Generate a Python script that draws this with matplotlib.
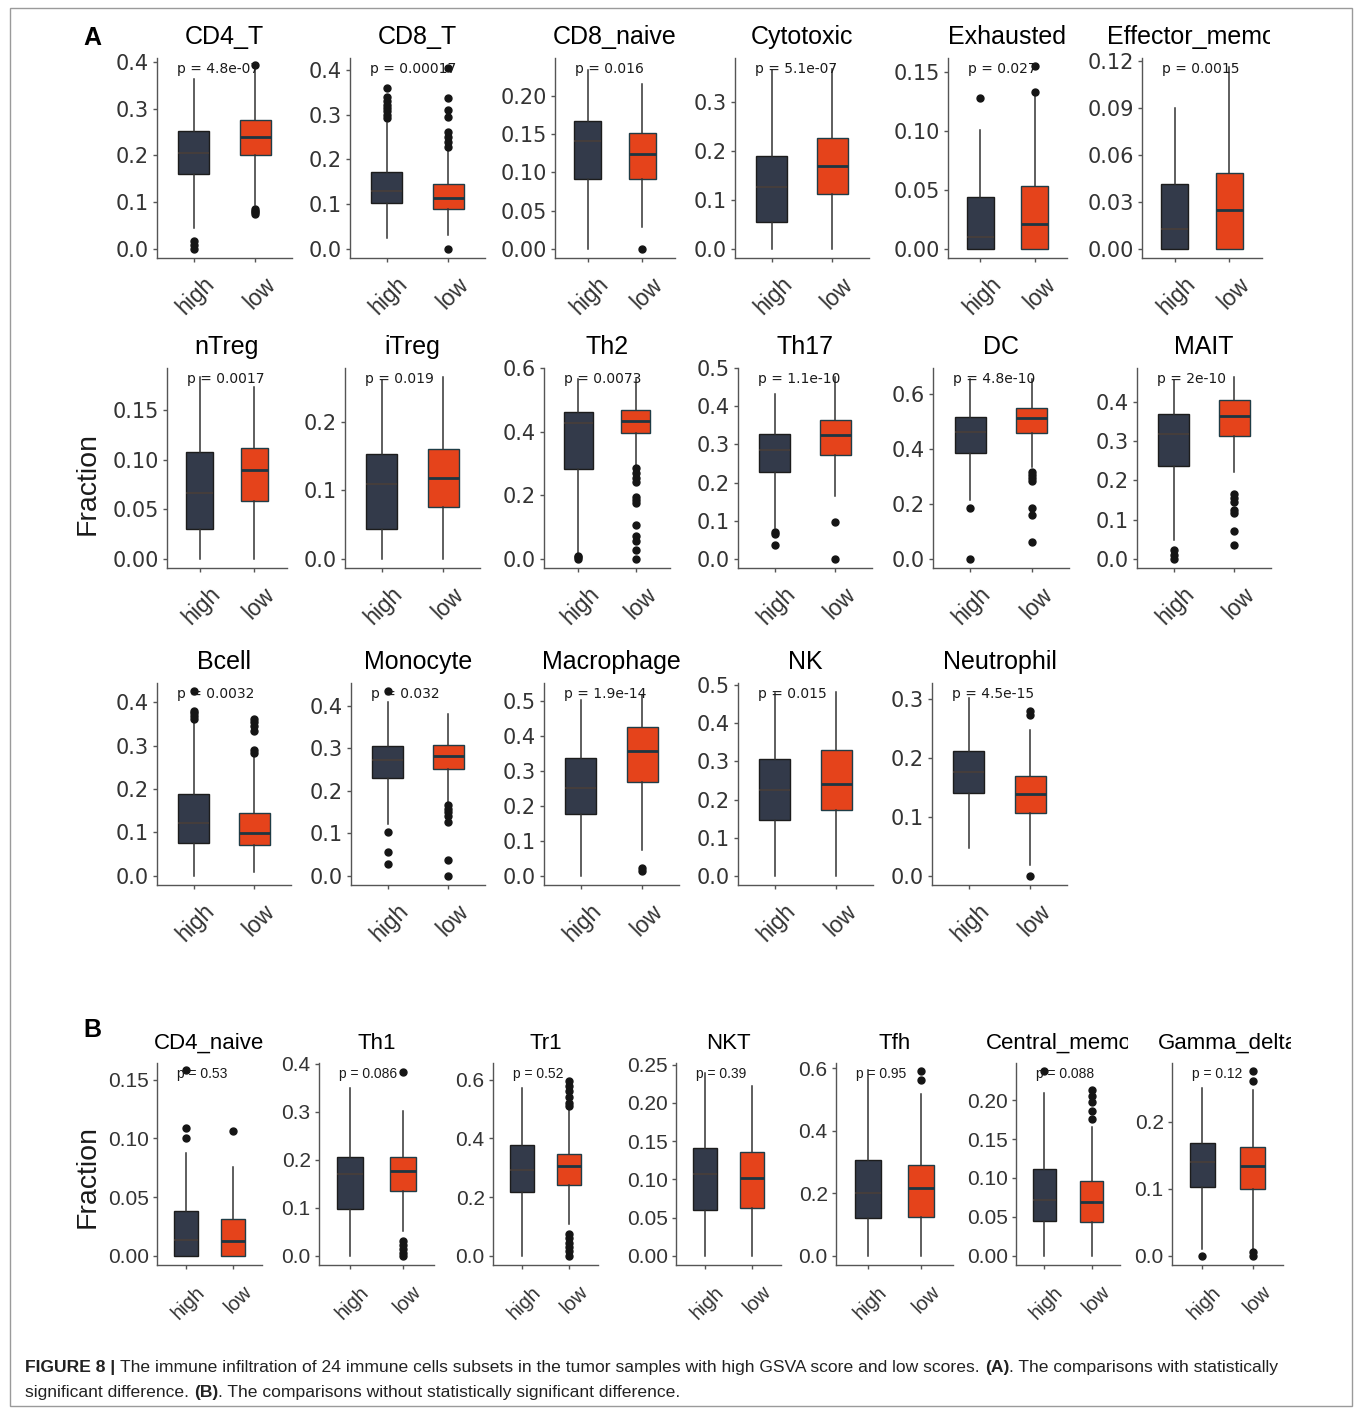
import matplotlib
matplotlib.use('Agg')
import matplotlib.pyplot as plt
from matplotlib.transforms import Bbox, TransformedBbox, ScaledTranslation
from matplotlib.patches import Rectangle

# ---- A: subsets with a significant high/low difference ----
cells_a = ['CD4_T', 'CD8_T', 'CD8_naive', 'Cytotoxic', 'Exhausted', 'Effector_memory',
           'nTreg', 'iTreg', 'Th2', 'Th17', 'DC', 'MAIT',
           'Bcell', 'Monocyte', 'Macrophage', 'NK', 'Neutrophil']
pvals_a = ['4.8e-07', '0.00017', '0.016', '5.1e-07', '0.027', '0.0015',
           '0.0017', '0.019', '0.0073', '1.1e-10', '4.8e-10', '2e-10',
           '0.0032', '0.032', '1.9e-14', '0.015', '4.5e-15']
# whisker low, q1, median, q3, whisker high
high_a = [[0.045, 0.1605, 0.205, 0.253, 0.363],
          [0.025, 0.103, 0.129, 0.172, 0.281],
          [0.0, 0.0917, 0.141, 0.167, 0.234],
          [0.0, 0.055, 0.127, 0.190, 0.364],
          [0.0, 0.0, 0.0098, 0.0437, 0.1005],
          [0.0, 0.0, 0.0127, 0.0413, 0.090],
          [0.0, 0.030, 0.0669, 0.108, 0.1834],
          [0.0, 0.044, 0.109, 0.153, 0.2606],
          [0.019, 0.283, 0.428, 0.464, 0.567],
          [0.081, 0.227, 0.285, 0.327, 0.431],
          [0.215, 0.387, 0.463, 0.5154, 0.657],
          [0.048, 0.2356, 0.3186, 0.370, 0.455],
          [0.0, 0.0749, 0.122, 0.1876, 0.355],
          [0.122, 0.2303, 0.272, 0.306, 0.4086],
          [0.0, 0.177, 0.251, 0.338, 0.503],
          [0.0, 0.1452, 0.2245, 0.3055, 0.480],
          [0.0473, 0.141, 0.1764, 0.2123, 0.3017]]
low_a = [[0.094, 0.201, 0.239, 0.276, 0.383],
         [0.032, 0.089, 0.114, 0.146, 0.222],
         [0.0287, 0.0917, 0.124, 0.152, 0.216],
         [0.0, 0.112, 0.168, 0.2256, 0.366],
         [0.0, 0.0, 0.0212, 0.053, 0.131],
         [0.0, 0.0, 0.0246, 0.0487, 0.116],
         [0.0, 0.0586, 0.0897, 0.1115, 0.1734],
         [0.0, 0.075, 0.1177, 0.161, 0.2654],
         [0.290, 0.396, 0.434, 0.470, 0.567],
         [0.165, 0.272, 0.324, 0.3635, 0.476],
         [0.336, 0.457, 0.512, 0.548, 0.657],
         [0.2204, 0.3137, 0.3644, 0.4043, 0.4636],
         [0.0077, 0.0718, 0.098, 0.145, 0.278],
         [0.1735, 0.2525, 0.2817, 0.3077, 0.381],
         [0.0739, 0.268, 0.3563, 0.4243, 0.517],
         [0.0, 0.1735, 0.2403, 0.3293, 0.4825],
         [0.0188, 0.107, 0.1383, 0.1696, 0.2476]]
high_out_a = [[0.017, 0.008, 0.0],
              [0.359, 0.339, 0.330, 0.322, 0.315, 0.308, 0.300, 0.293],
              [], [], [0.128], [], [], [],
              [0.010, 0.005, 0.0],
              [0.070, 0.065, 0.037],
              [0.185, 0.0],
              [0.022, 0.0095, 0.0],
              [0.380, 0.375, 0.368, 0.360, 0.4246],
              [0.104, 0.0568, 0.0276, 0.434],
              [], [], []]
low_out_a = [[0.086, 0.082, 0.078, 0.074, 0.393],
             [0.404, 0.337, 0.311, 0.296, 0.262, 0.251, 0.240, 0.229, 0.0],
             [0.0], [], [0.133, 0.155], [], [], [],
             [0.285, 0.269, 0.254, 0.243, 0.196, 0.186, 0.175, 0.107, 0.071, 0.055, 0.029, 0.0],
             [0.0965, 0.0],
             [0.318, 0.305, 0.295, 0.285, 0.185, 0.161, 0.060],
             [0.166, 0.154, 0.146, 0.1246, 0.116, 0.071, 0.0356],
             [0.362, 0.355, 0.345, 0.333, 0.290, 0.283],
             [0.166, 0.158, 0.150, 0.140, 0.127, 0.037, 0.0],
             [0.022, 0.015],
             [],
             [0.280, 0.273, 0.0]]
yticks_a = [[0, 0.1, 0.2, 0.3, 0.4], [0, 0.1, 0.2, 0.3, 0.4], [0, 0.05, 0.10, 0.15, 0.20],
            [0, 0.1, 0.2, 0.3], [0, 0.05, 0.10, 0.15], [0, 0.03, 0.06, 0.09, 0.12],
            [0, 0.05, 0.10, 0.15], [0, 0.1, 0.2], [0, 0.2, 0.4, 0.6],
            [0, 0.1, 0.2, 0.3, 0.4, 0.5], [0, 0.2, 0.4, 0.6], [0, 0.1, 0.2, 0.3, 0.4],
            [0, 0.1, 0.2, 0.3, 0.4], [0, 0.1, 0.2, 0.3, 0.4], [0, 0.1, 0.2, 0.3, 0.4, 0.5],
            [0, 0.1, 0.2, 0.3, 0.4, 0.5], [0, 0.1, 0.2, 0.3]]
ymax_a = [0.408, 0.427, 0.2496, 0.389, 0.162, 0.1217,
          0.1925, 0.2785, 0.601, 0.500, 0.6955, 0.4865,
          0.444, 0.4537, 0.551, 0.506, 0.327]

# ---- B: subsets without a significant difference ----
cells_b = ['CD4_naive', 'Th1', 'Tr1', 'NKT', 'Tfh', 'Central_memory', 'Gamma_delta']
pvals_b = ['0.53', '0.086', '0.52', '0.39', '0.95', '0.088', '0.12']
high_b = [[0.0, 0.0, 0.0134, 0.038, 0.0877],
          [0.0, 0.0974, 0.1705, 0.205, 0.350],
          [0.0, 0.217, 0.2914, 0.377, 0.5714],
          [0.0, 0.0596, 0.1074, 0.1413, 0.239],
          [0.0, 0.120, 0.200, 0.305, 0.595],
          [0.0, 0.045, 0.0718, 0.1118, 0.2086],
          [0.010, 0.1025, 0.140, 0.169, 0.250]]
low_b = [[0.0, 0.0, 0.0129, 0.0314, 0.0757],
         [0.052, 0.1357, 0.176, 0.2066, 0.301],
         [0.1086, 0.240, 0.306, 0.3486, 0.503],
         [0.0, 0.063, 0.1021, 0.1356, 0.2217],
         [0.0, 0.125, 0.216, 0.289, 0.5175],
         [0.0, 0.0439, 0.0688, 0.0955, 0.1655],
         [0.010, 0.100, 0.1335, 0.1625, 0.2475]]
high_out_b = [[0.109, 0.1005, 0.1586], [], [], [], [], [0.2374], [0.0]]
low_out_b = [[0.1066],
             [0.031, 0.022, 0.014, 0.006, 0.0, 0.3826],
             [0.594, 0.580, 0.560, 0.540, 0.520, 0.510, 0.074, 0.060, 0.045, 0.030, 0.015, 0.0],
             [],
             [0.589, 0.5625],
             [0.213, 0.205, 0.197, 0.186, 0.176],
             [0.276, 0.261, 0.005, 0.0]]
yticks_b = [[0, 0.05, 0.10, 0.15], [0, 0.1, 0.2, 0.3, 0.4], [0, 0.2, 0.4, 0.6],
            [0, 0.05, 0.10, 0.15, 0.20, 0.25], [0, 0.2, 0.4, 0.6],
            [0, 0.05, 0.10, 0.15, 0.20], [0, 0.1, 0.2]]
ymax_b = [0.1643, 0.402, 0.657, 0.252, 0.616, 0.2477, 0.2876]

groups = ['high', 'low']

# ---- layout (figure pixels) ----
W, H = 1355, 1409
left_a = [157, 350, 555, 735, 948, 1142, 167, 345, 544, 738, 933, 1137, 157, 351, 544, 738, 932]
right_a = [292, 485, 675, 869, 1067, 1262, 287, 480, 670, 872, 1069, 1271, 291, 485, 679, 873, 1067]
rows_a = [(58, 258)] * 6 + [(368, 568)] * 6 + [(683, 885)] * 5
left_b = [157, 319, 493, 676, 836, 1016, 1172]
right_b = [262, 434, 598, 781, 953, 1120, 1283]
rows_b = [(1063, 1265)] * 7

HIGH_FILL, HIGH_EDGE, HIGH_MED = '#333a4a', '#1c1c1c', '#4a3e38'
LOW_FILL, LOW_EDGE, LOW_MED = '#e5431b', '#1f3d47', '#1d3642'
AXIS_COL = '#555555'
TICK_TXT = '#333333'
SANS = 'Liberation Sans'


def fx(x):
    return x / W


def fy(y):
    return 1 - y / H


def tick_labels(ticks):
    two = any(abs(t * 10 - round(t * 10)) > 1e-9 for t in ticks)
    return [f'{t:.2f}' if two else f'{t:.1f}' for t in ticks]


def box_panel(fig, x0, x1, top, bottom, title, p, high, low, high_out, low_out,
              ticks, ymax, ytick_font, ptick_font, title_size, xlab_size, xlab_pad, xlab_dx):
    ax = fig.add_axes([fx(x0), fy(bottom), (x1 - x0) / W, (bottom - top) / H])
    stats = []
    for five, out in ((high, high_out), (low, low_out)):
        lo, q1, med, q3, hi = five
        stats.append(dict(whislo=lo, q1=q1, med=med, q3=q3, whishi=hi, fliers=out))
    parts = ax.bxp(stats, positions=[1, 2], widths=0.5, patch_artist=True, showcaps=False,
                   whiskerprops=dict(color='#333333', lw=1.1),
                   flierprops=dict(marker='o', markerfacecolor='#151515',
                                   markeredgecolor='#151515', markersize=5))
    for box, fc, ec in zip(parts['boxes'], [HIGH_FILL, LOW_FILL], [HIGH_EDGE, LOW_EDGE]):
        box.set_facecolor(fc)
        box.set_edgecolor(ec)
        box.set_linewidth(1.0)
    for line, c, lw in zip(parts['medians'], [HIGH_MED, LOW_MED], [1.1, 2.0]):
        line.set_color(c)
        line.set_linewidth(lw)

    ax.set_xlim(0.4, 2.6)
    ax.set_ylim(-ymax / 21, ymax)
    for s in ('top', 'right'):
        ax.spines[s].set_visible(False)
    for s in ('left', 'bottom'):
        ax.spines[s].set_color(AXIS_COL)
        ax.spines[s].set_linewidth(1.0)
    ax.set_yticks(ticks)
    ax.set_yticklabels(tick_labels(ticks), family=ytick_font, fontsize=15, color=TICK_TXT)
    ax.set_xticks([1, 2])
    ax.set_xticklabels(groups, rotation=45, rotation_mode='anchor', ha='right', va='top',
                       family=SANS, fontsize=xlab_size, color=TICK_TXT)
    ax.tick_params(axis='y', length=3, width=1, color=AXIS_COL, pad=3)
    ax.tick_params(axis='x', length=3, width=1, color=AXIS_COL, pad=xlab_pad)
    shift = ScaledTranslation(xlab_dx / 72, 0, fig.dpi_scale_trans)
    for lab in ax.get_xticklabels():
        lab.set_transform(lab.get_transform() + shift)

    # panel title, clipped at the right edge of its cell
    t = fig.text(fx((x0 + x1) / 2), fy(top - 14.3), title, ha='center', va='baseline',
                 family=SANS, fontsize=title_size, color='black', clip_on=True)
    t.set_clip_box(TransformedBbox(Bbox.from_extents(0, 0, fx(x1 + 8), 1), fig.transFigure))

    fig.text(fx(x0 + 20), fy(top + 15), 'p = ' + p, ha='left', va='baseline',
             family=ptick_font, fontsize=10, color='#1a1a1a')
    return ax


def caption_line(fig, x, y, runs, size):
    r = fig.canvas.get_renderer()

    def width(s, weight):
        t = fig.text(0, 0, s, family=SANS, fontsize=size, fontweight=weight)
        w = t.get_window_extent(r).width
        t.remove()
        return w

    space = width('n n', 'normal') - width('nn', 'normal')
    for s, bold, gap in runs:
        weight = 'bold' if bold else 'normal'
        fig.text(fx(x), fy(y), s, ha='left', va='baseline', family=SANS,
                 fontsize=size, fontweight=weight, color='#222222')
        x += width(s, weight) + (space if gap else 0)


fig = plt.figure(figsize=(W / 100, H / 100), dpi=100)

for i, name in enumerate(cells_a):
    top, bottom = rows_a[i]
    box_panel(fig, left_a[i], right_a[i], top, bottom, name, pvals_a[i], high_a[i], low_a[i],
              high_out_a[i], low_out_a[i], yticks_a[i], ymax_a[i],
              'DejaVu Sans', 'DejaVu Sans', 18, 16.5, 7.5, 6.5)

for i, name in enumerate(cells_b):
    top, bottom = rows_b[i]
    box_panel(fig, left_b[i], right_b[i], top, bottom, name, pvals_b[i], high_b[i], low_b[i],
              high_out_b[i], low_out_b[i], yticks_b[i], ymax_b[i],
              SANS, SANS, 16, 14.5, 9.5, 6.5)

# shared axis titles and panel letters
for yc in (483, 1177):
    fig.text(fx(88), fy(yc), 'Fraction', rotation=90, ha='center', va='center',
             family=SANS, fontsize=20.5, color='#1a1a1a')
fig.text(fx(92), fy(38), 'A', ha='center', va='center', family=SANS, fontsize=18,
         fontweight='bold')
fig.text(fx(92), fy(1030), 'B', ha='center', va='center', family=SANS, fontsize=18,
         fontweight='bold')

# caption
cap_size = 12.6
caption_line(fig, 25, 1372, [
    ('FIGURE 8 |', True, True),
    ('The immune infiltration of 24 immune cells subsets in the tumor samples with high '
     'GSVA score and low scores.', False, True),
    ('(A)', True, False),
    ('. The comparisons with statistically', False, False)], cap_size)
caption_line(fig, 25, 1397, [
    ('significant difference.', False, True),
    ('(B)', True, False),
    ('. The comparisons without statistically significant difference.', False, False)], cap_size)

# outer frame
fig.patches.append(Rectangle((fx(10), fy(1406)), fx(1352) - fx(10), fy(8) - fy(1406),
                             transform=fig.transFigure, fill=False, edgecolor='#9a9a9a', lw=1.0))

fig.savefig('out.png', dpi=100)
